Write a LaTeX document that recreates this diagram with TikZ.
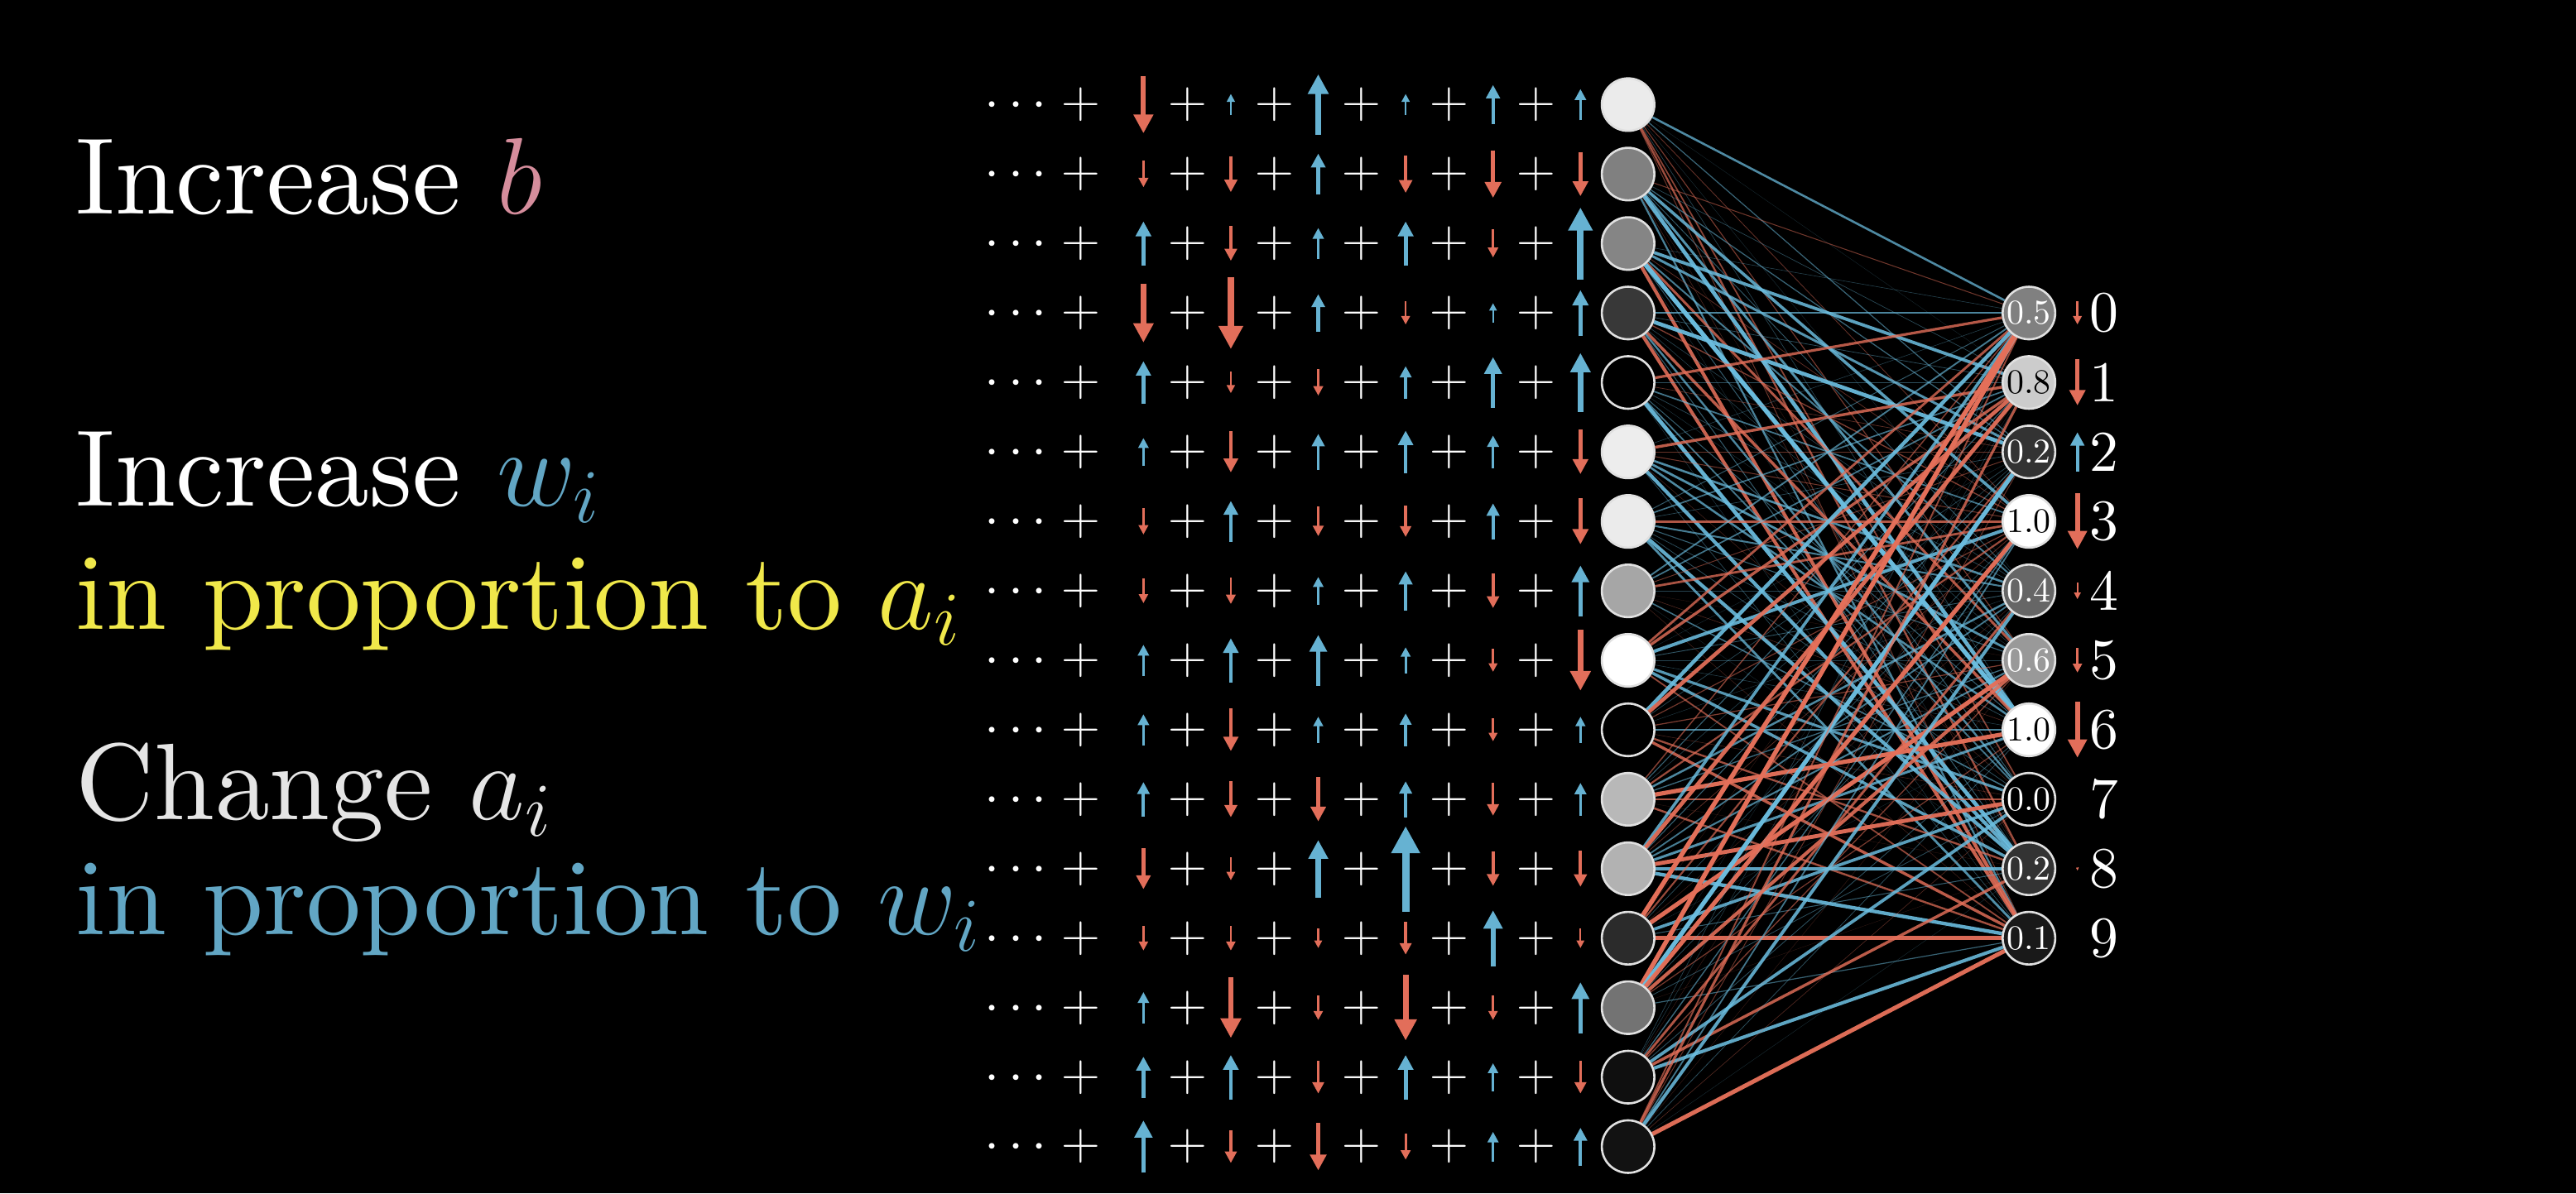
\RequirePackage{fix-cm}
\documentclass[tikz,border=0pt]{standalone}
\usepackage{amsmath}
\usepackage{tikz}
\usetikzlibrary{arrows.meta}
\usetikzlibrary{backgrounds}

% Latin Modern at its 10pt design, scaled to any size
\DeclareFontFamily{TU}{lmrten}{}
\DeclareFontShape{TU}{lmrten}{m}{n}{<-> \UnicodeFontFile{lmroman10-regular}{\UnicodeFontTeXLigatures}}{}

\definecolor{arrowred}{HTML}{E26E5A}
\definecolor{arrowblue}{HTML}{66B2D2}
\definecolor{linered}{HTML}{E5705A}
\definecolor{lineblue}{HTML}{6CBEE0}
\definecolor{textpink}{HTML}{D58D9C}
\definecolor{textblue}{HTML}{62A6C4}
\definecolor{textyellow}{HTML}{F0E84A}

% vertical nudge arrow: x, y, signed length (up = blue, down = red)
\newcommand{\nudge}[3]{%
    \pgfmathsetmacro{\nlen}{abs(#3)}%
    \pgfmathsetmacro{\nlw}{0.09*\nlen*0.567}%
    \pgfmathsetmacro{\nhd}{(0.3*\nlen+1)*0.567}%
    \pgfmathsetmacro{\nsg}{#3}%
    \ifdim \nsg pt>0pt \def\ncol{arrowblue}\else\def\ncol{arrowred}\fi
    \draw[\ncol, line width=\nlw pt, -{Triangle[length=\nhd pt, width=\nhd pt]}]
        ({#1},{#2+(\nsg)/2}) -- ({#1},{#2-(\nsg)/2});%
}

\begin{document}
\begin{tikzpicture}[x=0.02cm, y=-0.02cm,
        caption/.style={anchor=base west, inner sep=0pt, font=\fontfamily{lmrten}\fontsize{37.7}{44}\selectfont},
        neuron/.style={circle, draw=white!88!black, line width=0.75pt, minimum size=0.64cm, inner sep=0pt},
        symb/.style={anchor=base, inner sep=0pt, text=white, font=\fontsize{18.6}{20}\selectfont},
        digit/.style={inner sep=0pt, text=white, font=\fontfamily{lmrten}\fontsize{20}{22}\selectfont}
    ]
        \useasboundingbox (0,0) rectangle (1568,726.6);
        \begin{scope}[on background layer]
            \fill[black] (0,0) rectangle (1568,726.6);
        \end{scope}

        % Rules on the left
        \node[caption, text=white] (incb) at (46,130) {Increase \textcolor{textpink}{$b$}};
        \node[caption, text=white] (incw) at (46,308) {Increase \textcolor{textblue}{$w_i$}};
        \node[caption, text=textyellow] (propa) at (46,383) {in proportion to $a_i$};
        \node[caption, text=white!90!black] (chga) at (46,499) {Change $a_i$};
        \node[caption, text=textblue] (propw) at (46,569) {in proportion to $w_i$};

        % Hidden layer with the sums of nudges
        \foreach \g/\ra/\rb/\rc/\rd/\re/\rf [count=\n from 0] in {
            0.92/-35/13/37/13/24/19,
            0.50/-16/-22/25/-23/-29/-27,
            0.52/27/-21/19/27/-17/44,
            0.22/-36/-44/23/-14/12/28,
            0.00/26/-13/-16/20/31/36,
            0.93/17/-25/22/26/20/-27,
            0.92/-16/25/-18/-19/22/-28,
            0.65/-15/-16/17/24/-21/31,
            1.00/19/27/31/16/-14/-37,
            0.00/19/-26/16/20/-14/16,
            0.72/21/-22/-27/22/-20/20,
            0.70/-25/-14/35/52/-21/-22,
            0.17/-15/-15/-12/-20/34/-12,
            0.45/19/-37/-15/-40/-15/31,
            0.06/25/27/-20/27/17/-20,
            0.07/32/-20/-29/-16/18/23
        } {
            \pgfmathsetmacro{\yc}{63.7+42.3*\n}
            \pgfmathsetmacro{\pct}{100*\g}
            \node[neuron, fill=white!\pct!black] (h\n) at (991,\yc) {};
            \node[symb] (d\n) at (621,\yc+8.2) {$\cdots$};
            \foreach \px [count=\k] in {658,723,776,829,882,935}
                \node[symb] (p\n-\k) at (\px,\yc+8.2) {$+$};
            \foreach \arr [count=\k from 0] in {\ra,\rb,\rc,\rd,\re,\rf} {
                \pgfmathsetmacro{\xc}{696+53.2*\k}
                \nudge{\xc}{\yc}{\arr}
            }
        }

        % Output layer
        \foreach \v/\dg/\arr [count=\m from 0] in {
            0.5/0/-14, 0.8/1/-28, 0.2/2/24, 1.0/3/-34, 0.4/4/-10,
            0.6/5/-15, 1.0/6/-34, 0.0/7/0, 0.2/8/-2, 0.1/9/0
        } {
            \pgfmathsetmacro{\yc}{63.7+42.3*(\m+3)}
            \pgfmathsetmacro{\pct}{100*\v}
            \ifdim \v pt>0.7pt \def\tc{black}\else\def\tc{white}\fi
            \node[neuron, fill=white!\pct!black, text=\tc, font=\fontfamily{lmrten}\fontsize{12}{13}\selectfont] (o\m) at (1235,\yc) {\v};
            \node[digit] (n\m) at (1280.6,\yc) {\dg};
            \ifdim \arr pt=0pt \else \nudge{1264.5}{\yc}{\arr}\fi
        }

        % Weights between the layers
        \pgfmathsetseed{11}
        \begin{scope}[on background layer]
            \foreach \n in {0,...,15}
            \foreach \m in {0,...,9} {
                \pgfmathsetmacro{\w}{rand}
                \pgfmathsetmacro{\wabs}{abs(\w)}
                \pgfmathsetmacro{\lw}{0.1+1.5*\wabs*\wabs}
                \pgfmathsetmacro{\op}{0.2+0.8*\wabs}
                \ifdim \w pt>0pt \def\lcol{lineblue}\else\def\lcol{linered}\fi
                \draw[\lcol, line width=\lw pt, opacity=\op] (h\n) -- (o\m);
            }
        \end{scope}
    \end{tikzpicture}
\end{document}
